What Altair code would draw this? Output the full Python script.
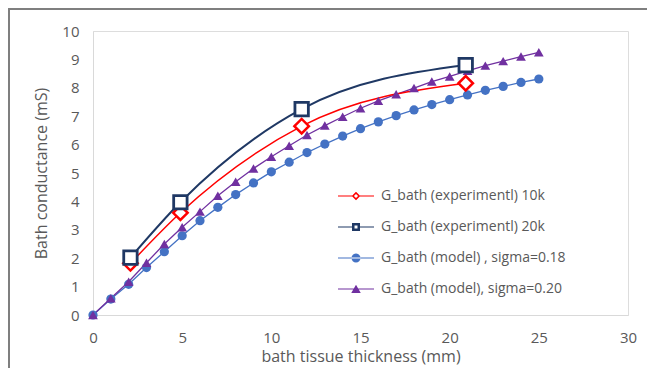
import altair as alt
import pandas as pd

# ---- data ----
series_names = [
    "G_bath (experimentl) 10k",
    "G_bath (experimentl) 20k",
    "G_bath (model) , sigma=0.18",
    "G_bath (model), sigma=0.20",
]
series_colors = ["#FF0000", "#1F3864", "#4472C4", "#7030A0"]

exp_x = [2.1, 4.9, 11.7, 20.9]
exp10k_y = [1.82, 3.6, 6.65, 8.16]
exp20k_y = [2.02, 3.97, 7.25, 8.8]

model_x = list(range(26))
model18_y = [0, 0.56, 1.08, 1.67, 2.23, 2.79, 3.32, 3.79, 4.24, 4.65, 5.04, 5.38, 5.72,
             6.02, 6.30, 6.56, 6.80, 7.02, 7.22, 7.41, 7.58, 7.75, 7.91, 8.05, 8.19, 8.31]
model20_y = [0, 0.59, 1.17, 1.84, 2.5, 3.09, 3.64, 4.2, 4.69, 5.16, 5.57, 5.96, 6.34,
             6.67, 6.98, 7.28, 7.54, 7.77, 7.99, 8.22, 8.40, 8.60, 8.78, 8.94, 9.10, 9.25]

x_ticks = [0, 5, 10, 15, 20, 25, 30]
y_ticks = list(range(11))

# ---- tables ----
series_data = [
    pd.DataFrame({"x": exp_x, "y": exp10k_y}),
    pd.DataFrame({"x": exp_x, "y": exp20k_y}),
    pd.DataFrame({"x": model_x, "y": model18_y}),
    pd.DataFrame({"x": model_x, "y": model20_y}),
]
legend_df = pd.DataFrame({"series": series_names})

FONT = "Open Sans"
GREY = "#595959"

# legend glyphs: line with marker (units scaled by sqrt(size)/2)
seg_l = "M-3.6,-0.12H-0.8V0.12H-3.6Z"
seg_r = "M0.8,-0.12H3.6V0.12H0.8Z"
full = "M-3.6,-0.12H3.6V0.12H-3.6Z"
diamond = "M0,-0.85L0.85,0L0,0.85L-0.85,0Z M0,-0.42L-0.42,0L0,0.42L0.42,0Z"
square = "M-0.8,-0.8H0.8V0.8H-0.8Z M-0.3,-0.3V0.3H0.3V-0.3Z"
circle = "M-0.9,0A0.9,0.9 0 1,0 0.9,0A0.9,0.9 0 1,0 -0.9,0Z"
triangle = "M0,-0.85L0.95,0.8L-0.95,0.8Z"
legend_paths = [
    seg_l + " " + seg_r + " " + diamond,
    seg_l + " " + seg_r + " " + square,
    full + " " + circle,
    full + " " + triangle,
]

xs = alt.X("x:Q", scale=alt.Scale(domain=[0, 30]),
           axis=alt.Axis(values=x_ticks, grid=False, ticks=False, domainColor="#D9D9D9",
                         labelFlush=False,
                         labelFont=FONT, labelFontSize=15, labelColor=GREY, labelPadding=15,
                         title="bath tissue thickness (mm)", titleFont=FONT, titleFontSize=16,
                         titleFontWeight="normal", titleColor=GREY, titlePadding=3))
ys = alt.Y("y:Q", scale=alt.Scale(domain=[0, 10]),
           axis=alt.Axis(values=y_ticks, grid=False, ticks=False, domainColor="#D9D9D9",
                         labelFlush=False,
                         labelFont=FONT, labelFontSize=15, labelColor=GREY, labelPadding=14,
                         title="Bath conductance (mS)", titleFont=FONT, titleFontSize=16,
                         titleFontWeight="normal", titleColor=GREY, titlePadding=12))

line_styles = [
    dict(interpolate="monotone", strokeWidth=1.5),
    dict(interpolate="monotone", strokeWidth=2.0),
    dict(strokeWidth=1.3),
    dict(strokeWidth=1.3),
]
point_styles = [
    dict(shape="diamond", fill="white", fillOpacity=1, strokeWidth=2.5, size=210),
    dict(shape="square", fill="white", fillOpacity=1, strokeWidth=2.8, size=180),
    dict(shape="circle", filled=True, size=85),
    dict(shape="triangle-up", filled=True, size=95),
]

frame = alt.Chart(legend_df).mark_rect(fillOpacity=0, stroke="#7F7F7F", strokeWidth=1.5).encode(
    x=alt.value(-84), x2=alt.value(700), y=alt.value(-22), y2=alt.value(500))

layers = [frame]
for i in [2, 3, 0, 1]:
    d = series_data[i]
    c = series_colors[i]
    layers.append(alt.Chart(d).mark_line(color=c, **line_styles[i]).encode(x=xs, y=ys))
for i in [2, 3, 0, 1]:
    d = series_data[i]
    c = series_colors[i]
    ps = dict(point_styles[i])
    if ps.get("filled"):
        layers.append(alt.Chart(d).mark_point(color=c, opacity=1, **ps).encode(x=xs, y=ys))
    else:
        layers.append(alt.Chart(d).mark_point(stroke=c, opacity=1, **ps).encode(x=xs, y=ys))

leg = alt.Legend(title=None, orient="none", legendX=256, legendY=158, padding=0,
                 labelFont=FONT, labelFontSize=14, labelColor=GREY, labelOffset=18,
                 symbolSize=100, symbolStrokeWidth=0, symbolOpacity=1, rowPadding=17,
                 labelLimit=400)
legend_layer = alt.Chart(legend_df).mark_point(filled=True, size=0, opacity=1).encode(
    fill=alt.Fill("series:N", scale=alt.Scale(domain=series_names, range=series_colors), legend=leg),
    shape=alt.Shape("series:N", scale=alt.Scale(domain=series_names, range=legend_paths), legend=leg),
)
layers.append(legend_layer)

chart = alt.layer(*layers).properties(
    width=535, height=284,
    autosize=alt.AutoSizeParams(type="none"),
    padding={"left": 85, "top": 23, "right": 19, "bottom": 53},
).configure_view(stroke=None).configure(background="white")

chart.save("out.html", embed_options={"renderer": "svg", "actions": False})
